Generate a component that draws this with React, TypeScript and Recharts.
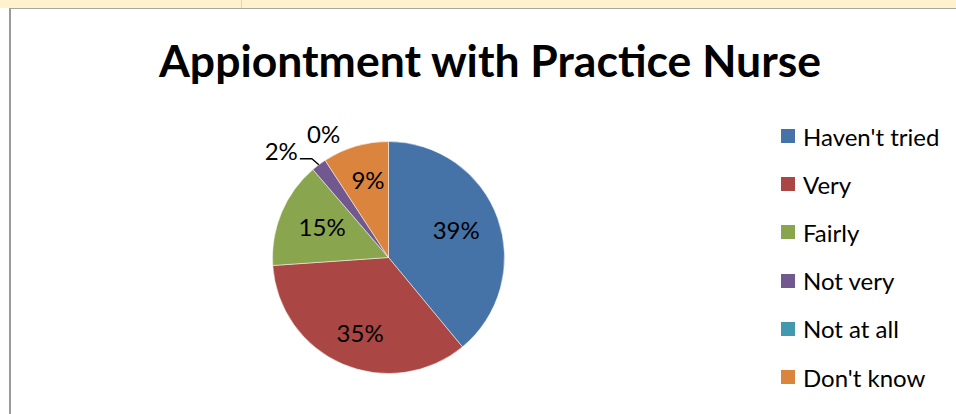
import { PieChart, Pie, Cell, Legend } from 'recharts'

// slice order as drawn clockwise from 12 o'clock
const categories = ["Haven't tried", 'Very', 'Fairly', 'Not very', 'Not at all', "Don't know"]
const shares = [39, 34.9, 14.8, 2.1, 0, 9.2]
const percentLabels = ['39%', '35%', '15%', '2%', '0%', '9%']
const colors = ['#4572A7', '#AA4643', '#89A54E', '#71588F', '#4198AF', '#DB843D']

const TITLE = 'Appiontment with Practice Nurse'
const FONT = 'Lato, "Open Sans", sans-serif'
const RADIAN = Math.PI / 180

const chartData = categories.map((name, i) => ({
  name,
  value: shares[i],
  label: percentLabels[i],
}))

function SliceLabel(props: any) {
  const { cx, cy, midAngle, outerRadius, index } = props
  const text = percentLabels[index]
  const cos = Math.cos(-midAngle * RADIAN)
  const sin = Math.sin(-midAngle * RADIAN)

  // small slices get their label outside the pie
  if (shares[index] < 5) {
    const ex = cx + outerRadius * cos
    const ey = cy + outerRadius * sin
    if (shares[index] === 0) {
      return (
        <text x={ex - 1.5} y={ey - 27} fontSize={24} fontFamily={FONT} fill="#000"
          textAnchor="middle" dominantBaseline="central">
          {text}
        </text>
      )
    }
    return (
      <g>
        <polyline
          points={`${ex},${ey} ${ex - 7},${ey - 6} ${ex - 19},${ey - 6}`}
          fill="none" stroke="#000" strokeWidth={1.3}
        />
        <text x={ex - 21} y={ey - 14} fontSize={24} fontFamily={FONT} fill="#000"
          textAnchor="end" dominantBaseline="central">
          {text}
        </text>
      </g>
    )
  }

  // Excel-style placement a bit past half the radius
  const xr = outerRadius * 0.62
  const yr = outerRadius * 0.7
  return (
    <text x={cx + xr * cos} y={cy + yr * sin} fontSize={24} fontFamily={FONT} fill="#000"
      textAnchor="middle" dominantBaseline="central">
      {text}
    </text>
  )
}

function LegendList() {
  return (
    <div style={{ fontFamily: FONT, fontSize: 24, color: '#000' }}>
      {categories.map((name, i) => (
        <div key={name} style={{ display: 'flex', alignItems: 'center', height: 48.2 }}>
          <span style={{ width: 14, height: 14, background: colors[i], marginRight: 8, flexShrink: 0 }} />
          <span style={{ whiteSpace: 'nowrap' }}>{name}</span>
        </div>
      ))}
    </div>
  )
}

export default function App() {
  return (
    <div style={{ position: 'fixed', left: 0, top: 0, width: 956, height: 414, background: '#fff', overflow: 'hidden' }}>
      {/* sheet cells above the chart */}
      <div style={{ position: 'absolute', left: 0, top: 0, width: 956, height: 8, background: '#FFF2CC' }} />
      <div style={{ position: 'absolute', left: 241, top: 0, width: 1, height: 8, background: '#F2D58A' }} />
      {/* chart frame */}
      <div style={{
        position: 'absolute', left: 9, top: 8, width: 947, height: 406,
        borderLeft: '2px solid #9a9a9a', borderTop: '1px solid #a6a6a6', background: '#fff',
      }} />

      <div style={{
        position: 'absolute', left: 0, top: 35, width: 980, textAlign: 'center',
        fontFamily: FONT, fontWeight: 700, fontSize: 44.5, lineHeight: '50px', color: '#000',
      }}>
        {TITLE}
      </div>

      <div style={{ position: 'absolute', left: 0, top: 0 }}>
        <PieChart width={956} height={414} margin={{ top: 0, right: 0, bottom: 0, left: 0 }}>
          <Pie
            data={chartData}
            dataKey="value"
            nameKey="name"
            cx={388.5}
            cy={257.5}
            outerRadius={116}
            startAngle={90}
            endAngle={-270}
            stroke="#fff"
            strokeWidth={0.5}
            label={SliceLabel}
            labelLine={false}
            isAnimationActive={false}
          >
            {chartData.map((d, i) => (
              <Cell key={d.name} fill={colors[i]} />
            ))}
          </Pie>
          <Legend
            layout="vertical"
            content={() => <LegendList />}
            wrapperStyle={{ position: 'absolute', left: 781, top: 112, width: 175 }}
          />
        </PieChart>
      </div>
    </div>
  )
}
